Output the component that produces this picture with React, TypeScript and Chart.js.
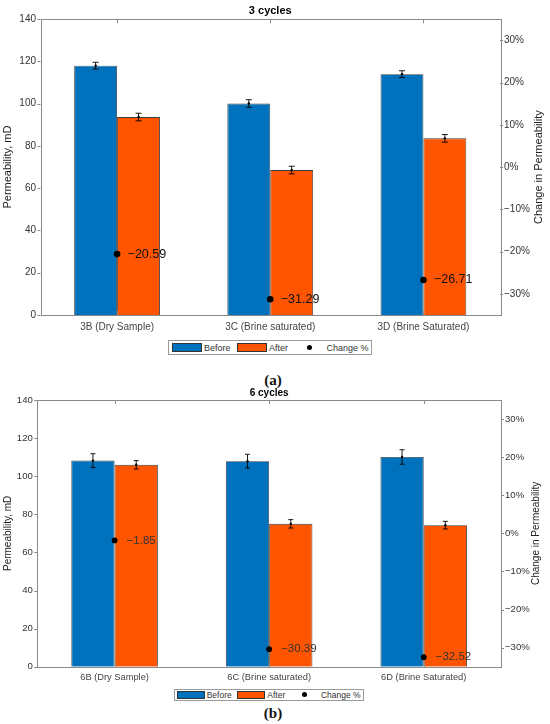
import { useEffect, useRef } from 'react';
import { Chart, registerables } from 'chart.js';

Chart.register(...registerables);

const FONT = '"Liberation Sans", Arial, Helvetica, sans-serif';
const BLUE = '#0072BD';
const ORANGE = '#FF5500';

const seriesNames = ['Before', 'After', 'Change %'];

// 3 cycles
const categories3 = ['3B (Dry Sample)', '3C (Brine saturated)', '3D (Brine Saturated)'];
const before3 = [118.0, 100.1, 114.0];
const before3Err = [1.6, 1.8, 1.6];
const after3 = [93.7, 68.6, 83.6];
const after3Err = [1.8, 1.8, 1.8];
const change3 = [-20.59, -31.29, -26.71];

// 6 cycles
const categories6 = ['6B (Dry Sample)', '6C (Brine saturated)', '6D (Brine Saturated)'];
const before6 = [108.2, 107.9, 110.1];
const before6Err = [3.6, 3.6, 3.8];
const after6 = [106.0, 75.0, 74.3];
const after6Err = [2.2, 2.2, 2.0];
const change6 = [-1.85, -30.39, -32.52];

const permTicks = [0, 20, 40, 60, 80, 100, 120, 140];
const changeTicks = [-30, -20, -10, 0, 10, 20, 30];

const minus = (v: number, digits?: number) => {
   const s = digits === undefined ? String(Math.abs(v)) : Math.abs(v).toFixed(digits);
   return v < 0 ? '\u2212' + s : s;
};

interface PanelLook {
   width: number;
   height: number;
   titleSize: number;
   titlePad: { top: number; bottom: number };
   leftW: number;
   rightW: number;
   xH: number;
   xPad: number;
   tickSize: number;
   xTickSize: number;
   axisTitleSize: number;
   leftTitlePad: number;
   rightTitleX: number;
   labelSize: number;
   labelColor: string;
   labelDx: number;
   pointR: number;
   cap: number;
}

interface PanelProps {
   title: string;
   categories: string[];
   before: number[];
   beforeErr: number[];
   after: number[];
   afterErr: number[];
   change: number[];
   look: PanelLook;
}

function CyclePanel({ title, categories, before, beforeErr, after, afterErr, change, look }: PanelProps) {
   const chartRef = useRef<HTMLCanvasElement>(null);
   const chartInstance = useRef<Chart | null>(null);

   useEffect(() => {
      if (!chartRef.current) return;
      if (chartInstance.current) chartInstance.current.destroy();
      const ctx = chartRef.current.getContext('2d');
      if (!ctx) return;

      const errs = [beforeErr, afterErr];

      const errorBars = {
         id: 'errorBars',
         afterDatasetsDraw(chart: Chart) {
            const c = chart.ctx;
            const y = chart.scales.y;
            c.save();
            c.strokeStyle = '#000';
            c.fillStyle = '#000';
            c.lineWidth = 0.9;
            [0, 1].forEach((di) => {
               const vals = chart.data.datasets[di].data as number[];
               chart.getDatasetMeta(di).data.forEach((bar, i) => {
                  const x = bar.x;
                  const lo = y.getPixelForValue(vals[i] - errs[di][i]);
                  const hi = y.getPixelForValue(vals[i] + errs[di][i]);
                  c.beginPath();
                  c.moveTo(x, lo);
                  c.lineTo(x, hi);
                  c.moveTo(x - look.cap, lo);
                  c.lineTo(x + look.cap, lo);
                  c.moveTo(x - look.cap, hi);
                  c.lineTo(x + look.cap, hi);
                  c.stroke();
                  c.beginPath();
                  c.arc(x, y.getPixelForValue(vals[i]), 1.2, 0, Math.PI * 2);
                  c.fill();
               });
            });
            c.restore();
         },
      };

      const pointLabels = {
         id: 'pointLabels',
         afterDatasetsDraw(chart: Chart) {
            const c = chart.ctx;
            c.save();
            c.font = `${look.labelSize}px ${FONT}`;
            c.fillStyle = look.labelColor;
            c.textBaseline = 'middle';
            c.textAlign = 'left';
            chart.getDatasetMeta(2).data.forEach((pt, i) => {
               c.fillText(minus(change[i], 2), pt.x + look.labelDx, pt.y);
            });
            c.restore();
         },
      };

      // MATLAB-like box with small ticks, plus right axis title read bottom-to-top
      const frame = {
         id: 'frame',
         afterDraw(chart: Chart) {
            const c = chart.ctx;
            const a = chart.chartArea;
            const { x, y, y1 } = chart.scales;
            c.save();
            c.strokeStyle = '#8a8a8a';
            c.lineWidth = 1;
            c.strokeRect(Math.round(a.left) + 0.5, Math.round(a.top) + 0.5, Math.round(a.width), Math.round(a.height));
            c.beginPath();
            y.ticks.forEach((_t, i) => {
               const py = Math.round(y.getPixelForTick(i)) + 0.5;
               c.moveTo(a.left - 3, py);
               c.lineTo(a.left, py);
            });
            y1.ticks.forEach((_t, i) => {
               const py = Math.round(y1.getPixelForTick(i)) + 0.5;
               c.moveTo(a.right, py);
               c.lineTo(a.right + 3, py);
            });
            x.ticks.forEach((_t, i) => {
               const px = Math.round(x.getPixelForTick(i)) + 0.5;
               c.moveTo(px, a.bottom);
               c.lineTo(px, a.bottom - 4);
               c.moveTo(px, a.top);
               c.lineTo(px, a.top + 4);
            });
            c.stroke();

            c.translate(look.rightTitleX, (a.top + a.bottom) / 2);
            c.rotate(-Math.PI / 2);
            c.font = `${look.axisTitleSize}px ${FONT}`;
            c.fillStyle = '#222';
            c.textAlign = 'center';
            c.textBaseline = 'middle';
            c.fillText('Change in Permeability', 0, 0);
            c.restore();
         },
      };

      chartInstance.current = new Chart(ctx, {
         type: 'bar',
         data: {
            labels: categories,
            datasets: [
               {
                  label: seriesNames[0],
                  data: before,
                  backgroundColor: BLUE,
                  borderColor: 'rgba(40, 40, 40, 0.9)',
                  borderWidth: 0.9,
                  categoryPercentage: 0.56,
                  barPercentage: 1,
                  yAxisID: 'y',
               },
               {
                  label: seriesNames[1],
                  data: after,
                  backgroundColor: ORANGE,
                  borderColor: 'rgba(40, 40, 40, 0.9)',
                  borderWidth: 0.9,
                  categoryPercentage: 0.56,
                  barPercentage: 1,
                  yAxisID: 'y',
               },
               {
                  type: 'line',
                  label: seriesNames[2],
                  data: change,
                  yAxisID: 'y1',
                  showLine: false,
                  pointRadius: look.pointR,
                  pointBackgroundColor: '#000',
                  pointBorderWidth: 0,
                  order: -1,
               } as any,
            ],
         },
         options: {
            responsive: false,
            animation: false,
            devicePixelRatio: 1,
            layout: { padding: 0 },
            scales: {
               x: {
                  grid: { display: false, drawTicks: false },
                  border: { display: false },
                  ticks: {
                     font: { size: look.xTickSize, family: FONT },
                     color: '#444',
                     padding: look.xPad,
                     maxRotation: 0,
                     autoSkip: false,
                  },
                  afterFit: (s: any) => {
                     s.height = look.xH;
                  },
               },
               y: {
                  position: 'left',
                  min: 0,
                  max: 140,
                  afterBuildTicks: (s: any) => {
                     s.ticks = permTicks.map((value) => ({ value }));
                  },
                  grid: { display: false, drawTicks: false },
                  border: { display: false },
                  ticks: {
                     font: { size: look.tickSize, family: FONT },
                     color: '#333',
                     padding: 4.5,
                  },
                  title: {
                     display: true,
                     text: 'Permeability, mD',
                     font: { size: look.axisTitleSize, family: FONT },
                     color: '#222',
                     padding: { top: look.leftTitlePad, bottom: 0 },
                  },
                  afterFit: (s: any) => {
                     s.width = look.leftW;
                  },
               },
               y1: {
                  position: 'right',
                  min: -35,
                  max: 35,
                  afterBuildTicks: (s: any) => {
                     s.ticks = changeTicks.map((value) => ({ value }));
                  },
                  grid: { display: false, drawTicks: false },
                  border: { display: false },
                  ticks: {
                     font: { size: look.tickSize, family: FONT },
                     color: '#333',
                     padding: 4,
                     callback: (v: any) => minus(Number(v)) + '%',
                  },
                  afterFit: (s: any) => {
                     s.width = look.rightW;
                  },
               },
            },
            plugins: {
               legend: { display: false },
               tooltip: { enabled: false },
               title: {
                  display: true,
                  text: title,
                  fullSize: false,
                  color: '#000',
                  font: { size: look.titleSize, weight: 'bold', family: FONT },
                  padding: look.titlePad,
               },
            },
         },
         plugins: [errorBars, pointLabels, frame],
      });

      return () => {
         if (chartInstance.current) {
            chartInstance.current.destroy();
            chartInstance.current = null;
         }
      };
   }, [title, categories, before, beforeErr, after, afterErr, change, look]);

   return <canvas ref={chartRef} width={look.width} height={look.height} style={{ display: 'block' }} />;
}

interface LegendLook {
   left: number;
   top: number;
   width: number;
   height: number;
   padL: number;
   font: number;
   swW: number;
   swH: number;
   gap: number;
   dot: number;
}

function Legend({ look }: { look: LegendLook }) {
   const colors = [BLUE, ORANGE];
   return (
      <div
         style={{
            position: 'absolute',
            left: look.left,
            top: look.top,
            width: look.width,
            height: look.height,
            boxSizing: 'border-box',
            border: '1px solid #9a9a9a',
            display: 'flex',
            alignItems: 'center',
            paddingLeft: look.padL,
            fontFamily: FONT,
            fontSize: look.font,
            color: '#333',
            whiteSpace: 'nowrap',
         }}
      >
         {seriesNames.map((name, i) => (
            <div key={name} style={{ display: 'flex', alignItems: 'center', marginRight: look.gap }}>
               <span
                  style={{
                     width: look.swW,
                     height: look.swH,
                     display: 'flex',
                     alignItems: 'center',
                     justifyContent: 'center',
                     boxSizing: 'border-box',
                     background: i < 2 ? colors[i] : 'transparent',
                     border: i < 2 ? '1px solid #333' : 'none',
                  }}
               >
                  {i === 2 && (
                     <span style={{ width: look.dot, height: look.dot, borderRadius: '50%', background: '#000' }} />
                  )}
               </span>
               <span style={{ marginLeft: 2 }}>{name}</span>
            </div>
         ))}
      </div>
   );
}

const look3: PanelLook = {
   width: 550,
   height: 338,
   titleSize: 11,
   titlePad: { top: 4, bottom: 2 },
   leftW: 40.5,
   rightW: 50,
   xH: 23,
   xPad: 6,
   tickSize: 10,
   xTickSize: 10,
   axisTitleSize: 11,
   leftTitlePad: 1.5,
   rightTitleX: 539,
   labelSize: 12.5,
   labelColor: '#111',
   labelDx: 10.5,
   pointR: 3.3,
   cap: 3,
};

const look6: PanelLook = {
   width: 550,
   height: 302,
   titleSize: 10,
   titlePad: { top: 3, bottom: 1 },
   leftW: 37.3,
   rightW: 49,
   xH: 19.3,
   xPad: 5,
   tickSize: 9.6,
   xTickSize: 9.3,
   axisTitleSize: 10,
   leftTitlePad: 2,
   rightTitleX: 536,
   labelSize: 11.5,
   labelColor: '#333',
   labelDx: 12,
   pointR: 2.9,
   cap: 2.5,
};

const legend3: LegendLook = { left: 168, top: 340, width: 204, height: 15, padL: 3, font: 9, swW: 30, swH: 8.5, gap: 6.5, dot: 5 };
const legend6: LegendLook = { left: 174, top: 689, width: 190, height: 11.5, padL: 1.7, font: 8.5, swW: 28, swH: 7.5, gap: 5.6, dot: 5 };

const captionStyle = {
   position: 'absolute' as const,
   left: 250,
   width: 46,
   textAlign: 'center' as const,
   fontFamily: '"Liberation Serif", "Times New Roman", serif',
   fontWeight: 'bold' as const,
   fontSize: 15,
   lineHeight: '18px',
   color: '#111',
};

export default function App() {
   useEffect(() => {
      document.body.style.margin = '0';
   }, []);

   return (
      <div style={{ position: 'relative', width: 550, height: 724, background: '#fff' }}>
         <div style={{ position: 'absolute', left: 0, top: 0 }}>
            <CyclePanel
               title="3 cycles"
               categories={categories3}
               before={before3}
               beforeErr={before3Err}
               after={after3}
               afterErr={after3Err}
               change={change3}
               look={look3}
            />
         </div>
         <Legend look={legend3} />
         <div style={{ ...captionStyle, top: 371 }}>(a)</div>
         <div style={{ position: 'absolute', left: 0, top: 384 }}>
            <CyclePanel
               title="6 cycles"
               categories={categories6}
               before={before6}
               beforeErr={before6Err}
               after={after6}
               afterErr={after6Err}
               change={change6}
               look={look6}
            />
         </div>
         <Legend look={legend6} />
         <div style={{ ...captionStyle, top: 704 }}>(b)</div>
      </div>
   );
}
